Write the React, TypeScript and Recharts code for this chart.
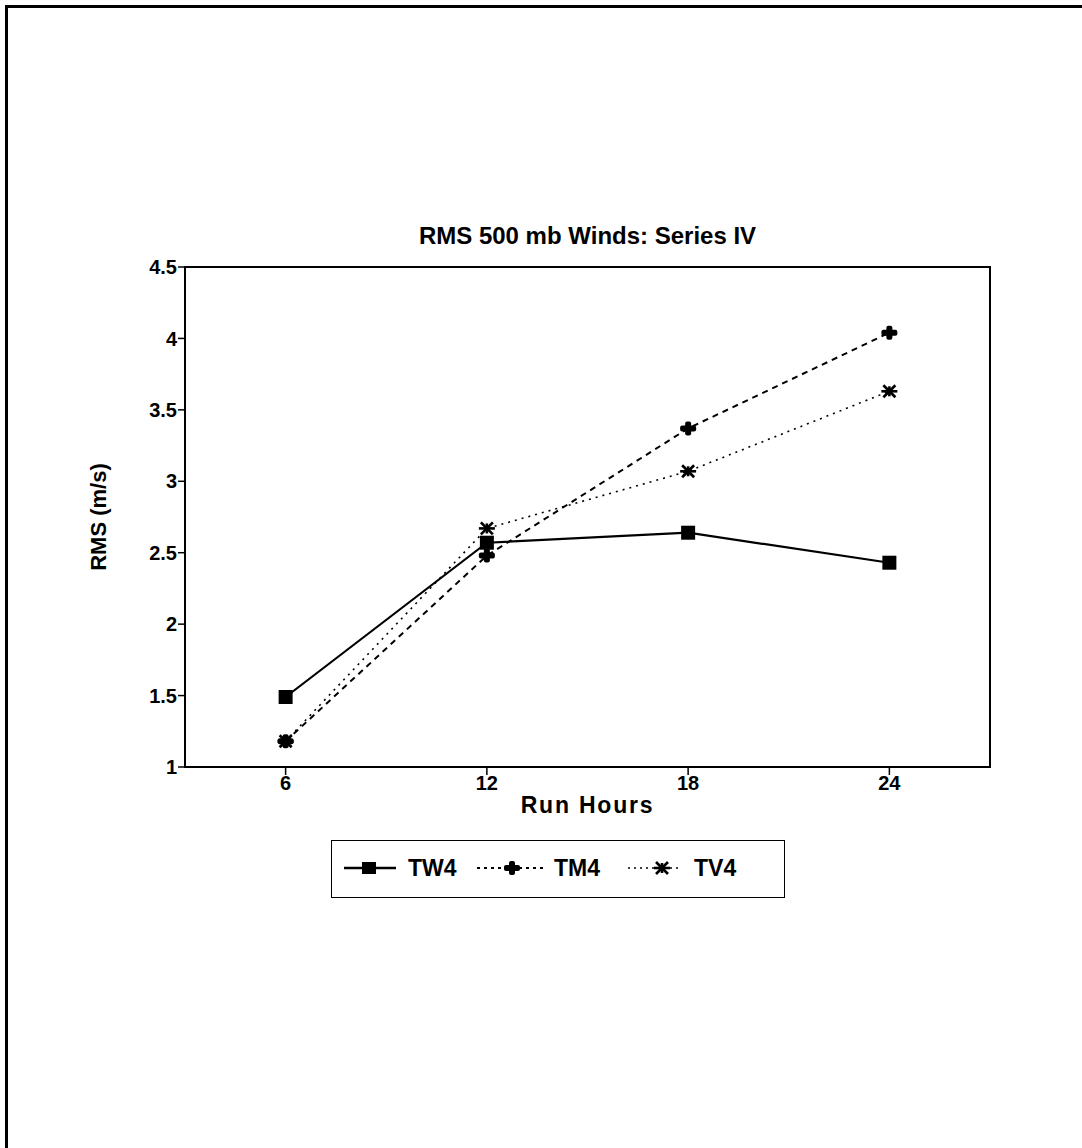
import { LineChart, Line, XAxis, YAxis, ReferenceArea, Label } from 'recharts';

// run hours on the x axis
const hours = [6, 12, 18, 24];
// RMS (m/s) per series
const tw4 = [1.49, 2.57, 2.64, 2.43];
const tm4 = [1.18, 2.48, 3.37, 4.04];
const tv4 = [1.18, 2.67, 3.07, 3.63];
const yTicks = [1, 1.5, 2, 2.5, 3, 3.5, 4, 4.5];

const data = hours.map((h, i) => ({ hour: h, TW4: tw4[i], TM4: tm4[i], TV4: tv4[i] }));

const FONT = '"Liberation Sans", Arial, Helvetica, sans-serif';

const SquareDot = (props: any) => {
    const { cx, cy } = props;
    if (cx == null || cy == null) return null;
    return <rect x={cx - 7} y={cy - 7} width={14} height={14} fill="#000" />;
};

const PlusDot = (props: any) => {
    const { cx, cy } = props;
    if (cx == null || cy == null) return null;
    return (
        <g fill="#000">
            <rect x={cx - 8} y={cy - 3} width={16} height={6} rx={2} />
            <rect x={cx - 3} y={cy - 7} width={6} height={14} rx={2} />
        </g>
    );
};

const StarDot = (props: any) => {
    const { cx, cy } = props;
    if (cx == null || cy == null) return null;
    return (
        <g stroke="#000" strokeWidth={2.6}>
            <line x1={cx - 8} y1={cy} x2={cx + 8} y2={cy} />
            <line x1={cx - 6} y1={cy - 6} x2={cx + 6} y2={cy + 6} />
            <line x1={cx - 6} y1={cy + 6} x2={cx + 6} y2={cy - 6} />
            <line x1={cx} y1={cy - 5} x2={cx} y2={cy + 5} />
        </g>
    );
};

const tickStyle = { fill: '#000', fontSize: 20, fontWeight: 'bold', fontFamily: FONT };

const YTitle = () => (
    <text x={98} y={517} transform="rotate(-90 98 517)" textAnchor="middle" dominantBaseline="central"
        fontSize={22} fontWeight="bold" fontFamily={FONT} fill="#000">
        RMS (m/s)
    </text>
);

const LegendItem = ({ left, lineLeft, lineRight, mark, dash, width, label, textLeft }: any) => (
    <>
        <svg style={{ position: 'absolute', left: lineLeft, top: 16 }} width={lineRight - lineLeft} height={22}>
            <line x1={0} y1={11} x2={lineRight - lineLeft} y2={11} stroke="#000" strokeWidth={width} strokeDasharray={dash} />
            {mark(left - lineLeft, 11)}
        </svg>
        <span style={{ position: 'absolute', left: textLeft, top: 12, lineHeight: '30px' }}>{label}</span>
    </>
);

export default function App() {
    return (
        <div style={{ position: 'fixed', left: 0, top: 0, width: 1082, height: 1148, overflow: 'hidden', background: '#fff', fontFamily: FONT }}>
            <div style={{ position: 'absolute', left: 5, top: 5, width: 2000, height: 2000, borderLeft: '3px solid #000', borderTop: '3px solid #000' }} />
            <div style={{ position: 'absolute', left: 185, width: 805, top: 221, lineHeight: '30px', textAlign: 'center', fontSize: 24, fontWeight: 'bold' }}>
                RMS 500 mb Winds: Series IV
            </div>
            <div style={{ position: 'absolute', left: 0, top: 0 }}>
                <LineChart width={1082} height={1148} data={data} margin={{ top: 267, right: 92, left: 125, bottom: 346 }}>
                    <XAxis dataKey="hour" type="number" domain={[3, 27]} ticks={hours} tickSize={8} tickMargin={1}
                        axisLine={{ stroke: '#000', strokeWidth: 2 }} tickLine={{ stroke: '#000', strokeWidth: 1.5 }}
                        tick={tickStyle} height={35}>
                        <Label value="Run Hours" position="bottom" offset={-5} fill="#000" fontWeight="bold" letterSpacing={1.8}
                            fontSize={23} fontFamily={FONT} />
                    </XAxis>
                    <YAxis type="number" domain={[1, 4.5]} ticks={yTicks} width={60} tickSize={7} tickMargin={1}
                        axisLine={{ stroke: '#000', strokeWidth: 2 }} tickLine={{ stroke: '#000', strokeWidth: 1.5 }}
                        tick={tickStyle} interval={0}>
                        <Label content={<YTitle />} />
                    </YAxis>
                    <ReferenceArea x1={3} x2={27} y1={1} y2={4.5} fill="none" stroke="#000" strokeWidth={2} ifOverflow="visible" />
                    <Line dataKey="TV4" stroke="#000" strokeWidth={1.6} strokeDasharray="2 5" dot={<StarDot />} activeDot={false} isAnimationActive={false} />
                    <Line dataKey="TM4" stroke="#000" strokeWidth={2} strokeDasharray="6 5" dot={<PlusDot />} activeDot={false} isAnimationActive={false} />
                    <Line dataKey="TW4" stroke="#000" strokeWidth={2.2} dot={<SquareDot />} activeDot={false} isAnimationActive={false} />
                </LineChart>
            </div>
            <div style={{
                position: 'absolute', left: 331, top: 840, width: 454, height: 58, border: '1.5px solid #000',
                boxSizing: 'border-box', fontSize: 23, fontWeight: 'bold'
            }}>
                <LegendItem lineLeft={12} lineRight={64} left={37} width={2.4}
                    mark={(x: number, y: number) => <rect x={x - 7} y={y - 6} width={14} height={12} fill="#000" />}
                    label="TW4" textLeft={76} />
                <LegendItem lineLeft={145} lineRight={213} left={180} width={1.8} dash="3 4"
                    mark={(x: number, y: number) => <PlusDot cx={x} cy={y} />}
                    label="TM4" textLeft={222} />
                <LegendItem lineLeft={296} lineRight={350} left={330} width={1.4} dash="2 4"
                    mark={(x: number, y: number) => <StarDot cx={x} cy={y} />}
                    label="TV4" textLeft={362} />
            </div>
        </div>
    );
}
